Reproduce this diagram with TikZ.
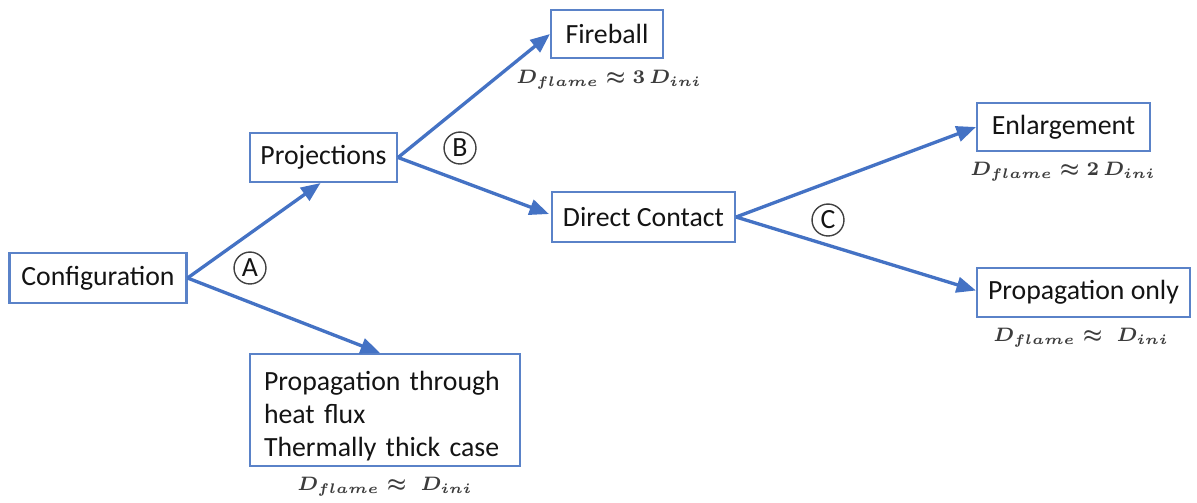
\documentclass[tikz,border=0pt]{standalone}
\usepackage{fontspec}
\setmainfont{Carlito}
\usetikzlibrary{arrows.meta,calc}
\definecolor{flowblue}{RGB}{68,114,196}
\definecolor{boxblue}{RGB}{90,130,200}
\definecolor{inktext}{RGB}{20,20,20}
\definecolor{notegray}{RGB}{60,60,60}
\tikzset{
  stagebox/.style={draw=boxblue, line width=0.75pt, fill=white, text=inktext,
    inner sep=0pt, font=\fontsize{10}{12}\selectfont},
  flow/.style={draw=flowblue, line width=1.2pt,
    -{Triangle[length=7pt,width=5.6pt]}},
  tag/.style={circle, draw=black!75, line width=0.5pt, minimum size=11.5pt,
    inner sep=0pt, font=\fontsize{10}{12}\selectfont, text=inktext},
  note/.style={font=\fontsize{7.2}{9}\selectfont, text=notegray}
}
\begin{document}
\begin{tikzpicture}[x=0.36pt, y=-0.36pt]
  \useasboundingbox (0,0) rectangle (1197,502);

  % stages
  \node[stagebox, minimum width=177*0.36pt, minimum height=50*0.36pt] (conf) at (98,278) {Configuration};
  \node[stagebox, minimum width=147*0.36pt, minimum height=49*0.36pt] (proj) at (323.5,157.5) {Projections};
  \node[stagebox, minimum width=112*0.36pt, minimum height=48*0.36pt] (fire) at (607,34) {Fireball};
  \node[stagebox, minimum width=183*0.36pt, minimum height=50*0.36pt] (dc) at (643.5,217) {Direct Contact};
  \node[stagebox, minimum width=173*0.36pt, minimum height=48*0.36pt] (enl) at (1063.5,127) {Enlargement};
  \node[stagebox, minimum width=213*0.36pt, minimum height=49*0.36pt] (po) at (1083.5,292.5) {Propagation only};
  \node[stagebox, minimum width=270*0.36pt, minimum height=112*0.36pt] (ptc) at (385,410) {};
  \node[font=\fontsize{10}{12}\selectfont, text=inktext, inner sep=0pt,
        text width=250*0.36pt, align=left] (ptctext) at (389,416)
        {Propagation through\\heat flux\\Thermally thick case};

  % branches
  \draw[flow] (conf.east) -- ($(proj.south)+(-3,0)$);
  \draw[flow] (conf.east) -- ($(ptc.north)+(-5,0)$);
  \draw[flow] (proj.east) -- (fire.west);
  \draw[flow] (proj.east) -- ($(dc.west)+(-2,-3)$);
  \draw[flow] (dc.east) -- (enl.west);
  \draw[flow] (dc.east) -- ($(po.west)+(0,-2)$);

  % branch labels
  \node[tag] (ta) at (250,268) {A};
  \node[tag] (tb) at (460,148) {B};
  \node[tag] (tc) at (828,220) {C};

  % flame size notes
  \boldmath
  \node[note] (nfire) at (609,80) {$D_{flame}\approx 3\,D_{ini}$};
  \node[note] (nenl) at (1063,172) {$D_{flame}\approx 2\,D_{ini}$};
  \node[note] (npo) at (1081,338) {$D_{flame}\approx\;D_{ini}$};
  \node[note] (nptc) at (385,487) {$D_{flame}\approx\;D_{ini}$};
\end{tikzpicture}
\end{document}
